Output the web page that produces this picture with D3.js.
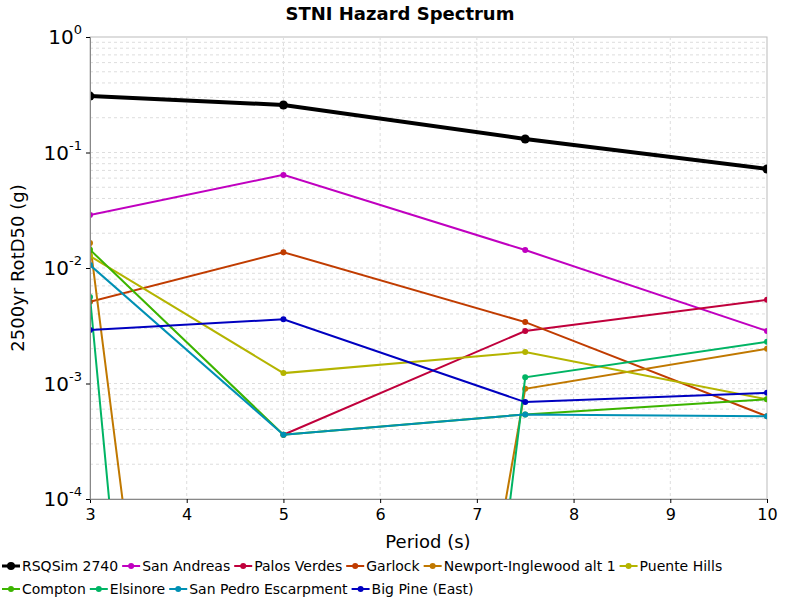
<!DOCTYPE html>
<html><head><meta charset="utf-8">
<script src="https://cdn.jsdelivr.net/npm/d3@7"></script>
<style>body{margin:0;background:#fff}text{font-family:"DejaVu Sans",sans-serif}</style>
</head><body><svg id="c" width="800" height="600"></svg>
<script>
const periods = [3, 5, 7.5, 10];
const names = ["RSQSim 2740","San Andreas","Palos Verdes","Garlock","Newport-Inglewood alt 1","Puente Hills","Compton","Elsinore","San Pedro Escarpment","Big Pine (East)"];
const colors = ["#000000","#c000c0","#c0003c","#c03c00","#c07800","#b4b400","#3cb400","#00b464","#0090b4","#0000c0"];
const values = [
  [0.308, 0.258, 0.131, 0.072],
  [0.0288, 0.064, 0.0143, 0.00285],
  [null, 0.00036, 0.00285, 0.0053],
  [0.0051, 0.0137, 0.0034, 0.00052],
  [0.0165, 1e-15, 0.0009, 0.0020],
  [0.0127, 0.00123, 0.00187, 0.00073],
  [0.0144, 0.00036, 0.00054, 0.00073],
  [0.0056, 1e-20, 0.00113, 0.0023],
  [0.0106, 0.00036, 0.00054, 0.00052],
  [0.0029, 0.0036, 0.00069, 0.00083]
];
const xTicks = [3,4,5,6,7,8,9,10];
const yDecades = [-4,-3,-2,-1,0];

const svg = d3.select("#c");
const L = 90, R = 767, T = 37, B = 499;
const x = d3.scaleLinear().domain([3,10]).range([L,R]);
const y = d3.scaleLog().domain([1e-4,1]).range([B,T]);

svg.append("rect").attr("x",L).attr("y",T).attr("width",R-L).attr("height",B-T).attr("fill","#fff").attr("stroke","#bbb");
// grid
const minor = [];
for (let e=-4;e<0;e++) for (let m=1;m<10;m++) minor.push(m*Math.pow(10,e));
svg.append("g").selectAll("line").data(minor.slice(1)).join("line")
  .attr("x1",L).attr("x2",R).attr("y1",d=>y(d)).attr("y2",d=>y(d))
  .attr("stroke","#ddd").attr("stroke-dasharray","3,3");
svg.append("g").selectAll("line").data(xTicks.slice(1,-1)).join("line")
  .attr("x1",d=>x(d)).attr("x2",d=>x(d)).attr("y1",T).attr("y2",B)
  .attr("stroke","#ddd").attr("stroke-dasharray","3,3");

const clip = svg.append("clipPath").attr("id","clp").append("rect").attr("x",L).attr("y",T).attr("width",R-L).attr("height",B-T);
const line = d3.line().defined(d=>d[1]!=null).x(d=>x(d[0])).y(d=>y(d[1]));
const g = svg.append("g").attr("clip-path","url(#clp)");
values.forEach((vals,i)=>{
  const pts = periods.map((p,j)=>[p,vals[j]]);
  const w = i===0?4:2, r = i===0?4.5:3;
  g.append("path").datum(pts).attr("d",line).attr("fill","none").attr("stroke",colors[i]).attr("stroke-width",w);
  g.selectAll(null).data(pts.filter(d=>d[1]!=null && d[1]>=1e-4)).join("circle")
    .attr("cx",d=>x(d[0])).attr("cy",d=>y(d[1])).attr("r",r).attr("fill",colors[i]);
});

// axes
const xa = svg.append("g").attr("transform",`translate(0,${B})`)
  .call(d3.axisBottom(x).tickValues(xTicks).tickFormat(d3.format("d")).tickSize(4));
xa.selectAll("text").attr("font-size",16).attr("dy","0.9em");
xa.select(".domain").attr("stroke","#888");
const ya = svg.append("g").attr("transform",`translate(${L},0)`)
  .call(d3.axisLeft(y).tickValues(yDecades.map(e=>Math.pow(10,e))).tickFormat("").tickSize(4));
ya.select(".domain").attr("stroke","#888");
yDecades.forEach(e=>{
  const t = svg.append("text").attr("x",L-8).attr("y",y(Math.pow(10,e))+7).attr("text-anchor","end");
  t.append("tspan").attr("font-size",20).text("10");
  t.append("tspan").attr("font-size",13).attr("dy",-10).text(e);
});
svg.append("text").attr("x",400).attr("y",20).attr("text-anchor","middle").attr("font-size",18).attr("font-weight","bold").text("STNI Hazard Spectrum");
svg.append("text").attr("x",428).attr("y",548).attr("text-anchor","middle").attr("font-size",18).text("Period (s)");
svg.append("text").attr("transform","translate(24,268) rotate(-90)").attr("text-anchor","middle").attr("font-size",18).text("2500yr RotD50 (g)");

// legend
const rows = [[0,1,2,3,4,5],[6,7,8,9]];
const rowY = [566,589];
rows.forEach((row,ri)=>{
  let cx = 2;
  row.forEach(i=>{
    const lg = svg.append("g").attr("transform",`translate(${cx},${rowY[ri]})`);
    lg.append("line").attr("x1",0).attr("x2",18).attr("stroke",colors[i]).attr("stroke-width",i===0?3:2);
    lg.append("circle").attr("cx",9).attr("r",i===0?4:3).attr("fill",colors[i]);
    const t = lg.append("text").attr("x",20).attr("y",5).attr("font-size",14).text(names[i]);
    cx += 20 + t.node().getComputedTextLength() + 4;
  });
});
</script></body></html>
